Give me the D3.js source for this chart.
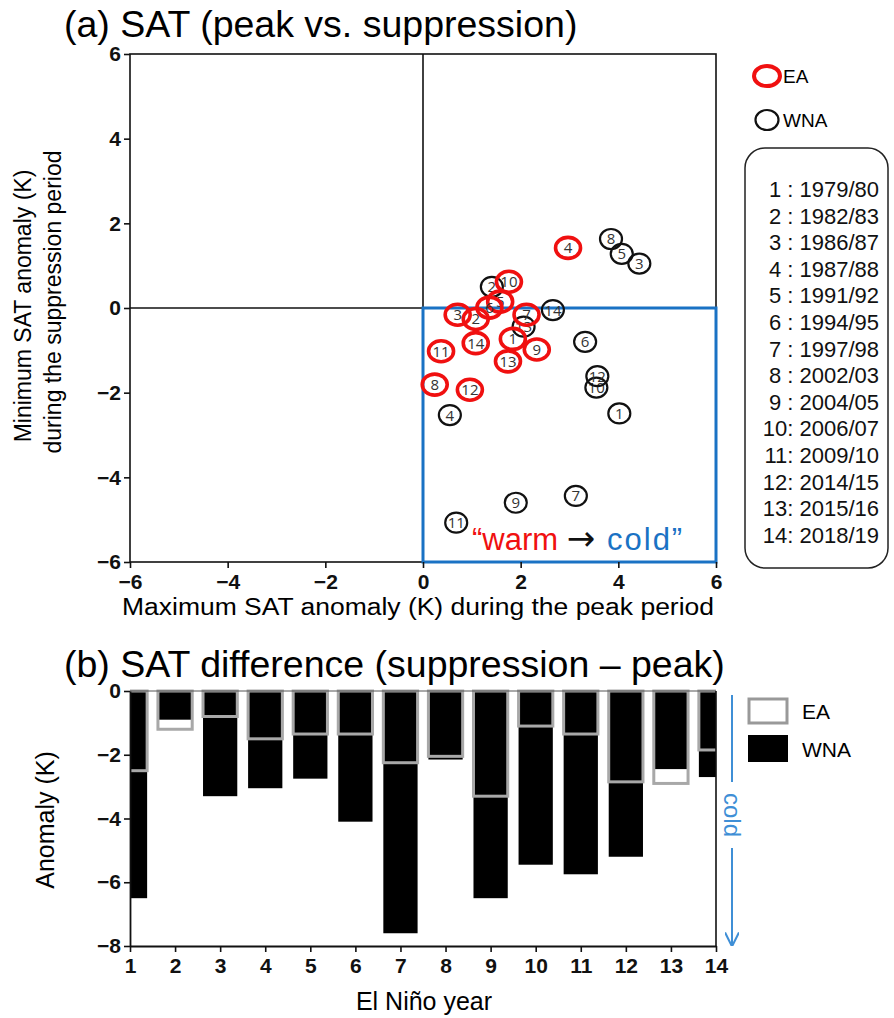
<!DOCTYPE html>
<html>
<head>
<meta charset="utf-8">
<script src="https://cdn.jsdelivr.net/npm/d3@7"></script>
<style>
body { margin: 0; background: #fff; }
text { font-family: "Liberation Sans", Arial, sans-serif; }
</style>
</head>
<body>
<div id="chartDiv"></div>
<script>
// El Nino cases 1..14
var yearNums = [1,2,3,4,5,6,7,8,9,10,11,12,13,14];
var yearLabels = ["1979/80","1982/83","1986/87","1987/88","1991/92","1994/95","1997/98",
                  "2002/03","2004/05","2006/07","2009/10","2014/15","2015/16","2018/19"];

// (a) max SAT anomaly in peak period vs min SAT anomaly in suppression period
var eaPeak  = [1.84, 1.08, 0.71, 2.97, 1.58, 1.36, 2.12, 0.24, 2.33, 1.76, 0.37, 0.96, 1.74, 1.08];
var eaSupp  = [-0.73, -0.26, -0.16, 1.42, 0.15, 0.01, -0.16, -1.81, -0.98, 0.62, -1.02, -1.93, -1.26, -0.83];
var wnaPeak = [4.02, 1.41, 4.43, 0.55, 4.07, 3.32, 3.13, 3.85, 1.90, 3.55, 0.68, 3.57, 2.06, 2.66];
var wnaSupp = [-2.49, 0.50, 1.05, -2.53, 1.28, -0.80, -4.44, 1.63, -4.60, -1.88, -5.07, -1.61, -0.44, -0.05];

// (b) difference suppression - peak
var eaDiff  = [-2.5, -1.2, -0.8, -1.5, -1.35, -1.35, -2.25, -2.05, -3.3, -1.1, -1.35, -2.85, -2.9, -1.85];
var wnaDiff = [-6.5, -0.9, -3.3, -3.05, -2.75, -4.1, -7.6, -2.15, -6.5, -5.45, -5.75, -5.2, -2.45, -2.7];

var scatterTicks = [-6,-4,-2,0,2,4,6];
var barYTicks = [0,-2,-4,-6,-8];

var width = 894, height = 1018;
var red = "#f01010", blue = "#1a72c4", gray = "#a8a8a8";
var tickFont = "'Liberation Sans Narrow', 'Liberation Sans', Arial, sans-serif";

var svg = d3.select("#chartDiv").append("svg")
    .attr("width", width)
    .attr("height", height);

// ---------- panel (a) ----------
var x = d3.scaleLinear().domain([-6, 6]).range([130, 716]);
var y = d3.scaleLinear().domain([-6, 6]).range([562, 54]);

svg.append("text")
    .attr("x", 64).attr("y", 37)
    .style("font-size", "37.5px")
    .text("(a) SAT (peak vs. suppression)");

var gA = svg.append("g");

// frame
gA.append("rect")
    .attr("x", x(-6)).attr("y", y(6))
    .attr("width", x(6) - x(-6)).attr("height", y(-6) - y(6))
    .attr("fill", "none").attr("stroke", "#111").attr("stroke-width", 1.6);

// zero lines
gA.append("line")
    .attr("x1", x(0)).attr("x2", x(0)).attr("y1", y(6)).attr("y2", y(0))
    .attr("stroke", "#111").attr("stroke-width", 1.6);
gA.append("line")
    .attr("x1", x(-6)).attr("x2", x(0)).attr("y1", y(0)).attr("y2", y(0))
    .attr("stroke", "#111").attr("stroke-width", 1.6);

// warm -> cold quadrant
gA.append("rect")
    .attr("x", x(0)).attr("y", y(0))
    .attr("width", x(6) - x(0)).attr("height", y(-6) - y(0))
    .attr("fill", "none").attr("stroke", blue).attr("stroke-width", 3);

// axes
var xAxisA = gA.append("g")
    .attr("transform", "translate(0," + y(-6) + ")")
    .call(d3.axisBottom(x).tickValues(scatterTicks).tickSize(6).tickSizeOuter(0));
var yAxisA = gA.append("g")
    .attr("transform", "translate(" + x(-6) + ",0)")
    .call(d3.axisLeft(y).tickValues(scatterTicks).tickSize(6).tickSizeOuter(0));
[xAxisA, yAxisA].forEach(function (ax) {
    ax.select(".domain").remove();
    ax.selectAll(".tick line").attr("stroke", "#111").attr("stroke-width", 1.6);
    ax.selectAll(".tick text")
        .style("font-size", "21px").style("font-weight", "bold")
        .style("font-family", tickFont)
        .attr("fill", "#111");
});
xAxisA.selectAll(".tick text").attr("dy", "0.85em");

svg.append("text")
    .attr("x", 418).attr("y", 615)
    .attr("text-anchor", "middle")
    .style("font-size", "23px")
    .attr("textLength", 592).attr("lengthAdjust", "spacingAndGlyphs")
    .text("Maximum SAT anomaly (K) during the peak period");

svg.append("text")
    .attr("transform", "translate(31,306) rotate(-90)")
    .attr("text-anchor", "middle")
    .style("font-size", "23px")
    .text("Minimum SAT anomaly (K)");
svg.append("text")
    .attr("transform", "translate(61,302) rotate(-90)")
    .attr("text-anchor", "middle")
    .style("font-size", "23px")
    .text("during the suppression period");

// points: WNA first, EA on top
function drawPoints(px, py, color, sw, rx, ry) {
    var pts = gA.append("g").selectAll("g")
        .data(yearNums)
        .enter().append("g")
        .attr("transform", function (d, i) { return "translate(" + x(px[i]) + "," + y(py[i]) + ")"; });
    pts.append("ellipse")
        .attr("rx", rx).attr("ry", ry)
        .attr("fill", "none").attr("stroke", color).attr("stroke-width", sw);
    pts.append("text")
        .attr("text-anchor", "middle").attr("dy", "0.36em")
        .style("font-family", "'Open Sans', 'DejaVu Sans', sans-serif")
        .style("font-size", "15px")
        .attr("fill", "#333")
        .text(function (d) { return d; });
}
drawPoints(wnaPeak, wnaSupp, "#111", 2.2, 11, 10);
drawPoints(eaPeak, eaSupp, red, 3.6, 12.5, 10.5);

// warm -> cold text
var wc = svg.append("text").attr("x", 472).attr("y", 550).style("font-size", "31px");
wc.append("tspan").attr("fill", red).text("\u201Cwarm ");
wc.append("tspan").attr("fill", "#111").style("font-size", "34px").style("font-family", "'DejaVu Sans', sans-serif").text("\u2192");
wc.append("tspan").attr("x", 607).attr("fill", blue)
    .style("letter-spacing", "2px")
    .text("cold\u201D");

// legend (a)
svg.append("ellipse").attr("cx", 767).attr("cy", 76).attr("rx", 13).attr("ry", 10)
    .attr("fill", "none").attr("stroke", red).attr("stroke-width", 4);
svg.append("text").attr("x", 783).attr("y", 83).style("font-size", "19px").text("EA");
svg.append("ellipse").attr("cx", 767).attr("cy", 120).attr("rx", 11.5).attr("ry", 10)
    .attr("fill", "none").attr("stroke", "#111").attr("stroke-width", 2.2);
svg.append("text").attr("x", 783).attr("y", 127).style("font-size", "19px").text("WNA");

// year list box
svg.append("rect")
    .attr("x", 745).attr("y", 148).attr("width", 143).attr("height", 420)
    .attr("rx", 20).attr("ry", 20)
    .attr("fill", "none").attr("stroke", "#222").attr("stroke-width", 1.5);
svg.append("g").selectAll("text")
    .data(yearNums)
    .enter().append("text")
    .attr("x", 879)
    .attr("y", function (d, i) { return 197 + i * 26.6; })
    .attr("text-anchor", "end")
    .style("font-size", "22px")
    .attr("fill", "#111")
    .text(function (d, i) { return (d < 10 ? d + " : " : d + ": ") + yearLabels[i]; });

// ---------- panel (b) ----------
var xb = d3.scaleLinear().domain([1, 14]).range([130, 716]);
var yb = d3.scaleLinear().domain([-8, 0]).range([946, 691]);
var barW = (xb(2) - xb(1)) * 0.76;

svg.append("text")
    .attr("x", 64).attr("y", 677)
    .style("font-size", "37.5px")
    .text("(b) SAT difference (suppression \u2013 peak)");

svg.append("defs").append("clipPath").attr("id", "clipB")
    .append("rect").attr("x", xb(1)).attr("y", yb(0) - 3)
    .attr("width", xb(14) - xb(1)).attr("height", yb(-8) - yb(0) + 3);

var gB = svg.append("g");
var bars = gB.append("g").attr("clip-path", "url(#clipB)");

bars.selectAll(".wna")
    .data(yearNums)
    .enter().append("rect")
    .attr("class", "wna")
    .attr("x", function (d) { return xb(d) - barW / 2; })
    .attr("y", yb(0))
    .attr("width", barW)
    .attr("height", function (d, i) { return yb(wnaDiff[i]) - yb(0); })
    .attr("fill", "#000");

bars.selectAll(".ea")
    .data(yearNums)
    .enter().append("rect")
    .attr("class", "ea")
    .attr("x", function (d) { return xb(d) - barW / 2; })
    .attr("y", yb(0))
    .attr("width", barW)
    .attr("height", function (d, i) { return yb(eaDiff[i]) - yb(0); })
    .attr("fill", "none").attr("stroke", gray).attr("stroke-width", 3);

// frame for (b)
gB.append("line").attr("x1", xb(1)).attr("x2", xb(14)).attr("y1", yb(0)).attr("y2", yb(0))
    .attr("stroke", "#555").attr("stroke-width", 1.2);
gB.append("line").attr("x1", xb(14)).attr("x2", xb(14)).attr("y1", yb(0)).attr("y2", yb(-8))
    .attr("stroke", "#111").attr("stroke-width", 1.6);

var xAxisB = gB.append("g")
    .attr("transform", "translate(0," + yb(-8) + ")")
    .call(d3.axisBottom(xb).tickValues(yearNums).tickFormat(d3.format("d")).tickSize(6).tickSizeOuter(0));
var yAxisB = gB.append("g")
    .attr("transform", "translate(" + xb(1) + ",0)")
    .call(d3.axisLeft(yb).tickValues(barYTicks).tickSize(6).tickSizeOuter(0));
[xAxisB, yAxisB].forEach(function (ax) {
    ax.select(".domain").attr("stroke", "#111").attr("stroke-width", 1.8);
    ax.selectAll(".tick line").attr("stroke", "#111").attr("stroke-width", 1.6);
    ax.selectAll(".tick text")
        .style("font-size", "21px").style("font-weight", "bold")
        .style("font-family", tickFont)
        .attr("fill", "#111");
});
xAxisB.selectAll(".tick text").attr("dy", "0.85em");

svg.append("text")
    .attr("x", 424).attr("y", 1010)
    .attr("text-anchor", "middle")
    .style("font-size", "25px")
    .text("El Ni\u00F1o year");
svg.append("text")
    .attr("transform", "translate(54,820) rotate(-90)")
    .attr("text-anchor", "middle")
    .style("font-size", "25px")
    .text("Anomaly (K)");

// cold arrow
var arrowBlue = "#3f8fd6";
svg.append("defs").append("marker")
    .attr("id", "arrowHead")
    .attr("viewBox", "0 0 10 10").attr("refX", 9).attr("refY", 5)
    .attr("markerWidth", 7).attr("markerHeight", 7)
    .attr("markerUnits", "strokeWidth")
    .attr("orient", "auto")
    .append("path").attr("d", "M0,0 L10,5 L0,10")
    .attr("fill", "none").attr("stroke", arrowBlue).attr("stroke-width", 1.5);
svg.append("line").attr("x1", 732).attr("x2", 732).attr("y1", 695).attr("y2", 782)
    .attr("stroke", arrowBlue).attr("stroke-width", 2);
svg.append("line").attr("x1", 732).attr("x2", 732).attr("y1", 848).attr("y2", 945)
    .attr("stroke", arrowBlue).attr("stroke-width", 2)
    .attr("marker-end", "url(#arrowHead)");
svg.append("text")
    .attr("transform", "translate(732,815) rotate(90)")
    .attr("text-anchor", "middle").attr("dy", "0.35em")
    .attr("fill", arrowBlue)
    .style("font-size", "24px")
    .text("cold");

// legend (b)
svg.append("rect").attr("x", 749).attr("y", 699).attr("width", 38).attr("height", 24)
    .attr("fill", "#fff").attr("stroke", "#999").attr("stroke-width", 3);
svg.append("text").attr("x", 802).attr("y", 719).style("font-size", "21px").text("EA");
svg.append("rect").attr("x", 748).attr("y", 735).attr("width", 40).attr("height", 27)
    .attr("fill", "#000");
svg.append("text").attr("x", 802).attr("y", 757).style("font-size", "21px").text("WNA");
</script>
</body>
</html>
